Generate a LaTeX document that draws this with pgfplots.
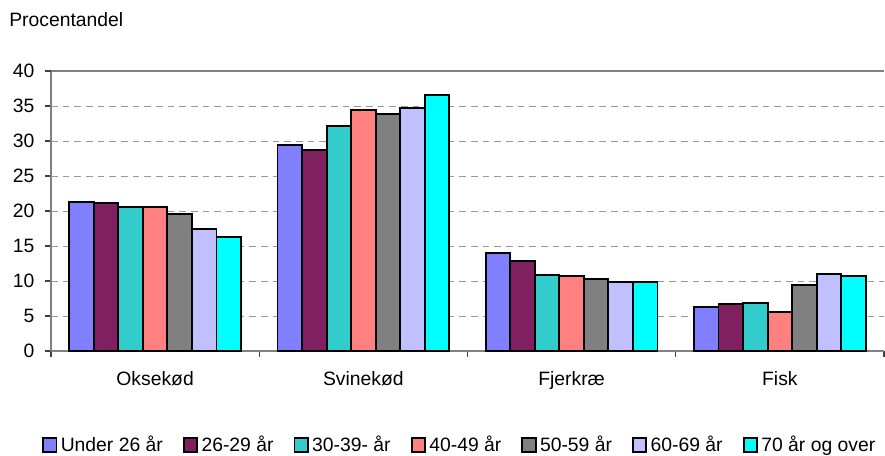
\documentclass[border=0pt]{standalone}
\usepackage{pgfplots}
\pgfplotsset{compat=1.18}
\usepackage{fontspec}
\setmainfont{Liberation Sans}
\definecolor{c1}{HTML}{8080FF}
\definecolor{c2}{HTML}{802060}
\definecolor{c3}{HTML}{33CCCC}
\definecolor{c4}{HTML}{FF8080}
\definecolor{c5}{HTML}{808080}
\definecolor{c6}{HTML}{C0C0FF}
\definecolor{c7}{HTML}{00FFFF}
\begin{document}
\fontsize{14.5}{17}\selectfont
\begin{tikzpicture}
\useasboundingbox (-38.25pt,-78pt) rectangle (625.5pt,263.25pt);
\begin{axis}[
  at={(0,0)}, anchor=south west,
  scale only axis, width=624.75pt, height=210pt,
  clip=false,
  xmin=-0.5, xmax=3.5, ymin=0, ymax=40,
  axis lines=left,
  axis line style={-, draw=gray, line width=1.2pt},
  /pgf/number format/assume math mode=true,
  ybar=0pt, bar width=18.4pt,
  ytick={0,5,...,35},
  extra y ticks={40},
  extra y tick style={grid style={solid, draw=gray, line width=1.4pt}},
  ymajorgrids,
  grid style={dash pattern=on 5pt off 3.75pt, draw=gray!80, line width=0.75pt},
  tick align=outside,
  major tick length=4.5pt,
  tick style={draw=black!75, line width=0.8pt},
  xtick={-0.5,0.5,1.5,2.5,3.5},
  xticklabels={},
  extra x ticks={0,1,2,3},
  extra x tick labels={Oksekød,Svinekød,Fjerkræ,Fisk},
  extra x tick style={major tick length=0pt, xticklabel style={yshift=-10pt}},
  yticklabel style={xshift=-3pt},
  sq/.style={legend image code/.code={\draw[##1, line width=1.3pt] (0pt,-5pt) rectangle (10pt,5pt);}},
  legend columns=7,
  legend style={at={(0.4916,-0.3357)}, anchor=center, draw=none,
    nodes={inner xsep=2.6pt, inner ysep=1pt},
    /tikz/every even column/.append style={column sep=12.5pt}},
  legend cell align=left,
]
\addplot[fill=c1, draw=black, line width=1.4pt, sq] coordinates {(0,21.3) (1,29.4) (2,14.0) (3,6.3)};
\addplot[fill=c2, draw=black, line width=1.4pt, sq] coordinates {(0,21.2) (1,28.7) (2,12.8) (3,6.7)};
\addplot[fill=c3, draw=black, line width=1.4pt, sq] coordinates {(0,20.6) (1,32.1) (2,10.8) (3,6.9)};
\addplot[fill=c4, draw=black, line width=1.4pt, sq] coordinates {(0,20.6) (1,34.4) (2,10.7) (3,5.6)};
\addplot[fill=c5, draw=black, line width=1.4pt, sq] coordinates {(0,19.6) (1,33.8) (2,10.3) (3,9.4)};
\addplot[fill=c6, draw=black, line width=1.4pt, sq] coordinates {(0,17.4) (1,34.7) (2,9.8) (3,11.0)};
\addplot[fill=c7, draw=black, line width=1.4pt, sq] coordinates {(0,16.3) (1,36.6) (2,9.8) (3,10.7)};
\legend{Under 26 år,26-29 år,30-39- år,40-49 år,50-59 år,60-69 år,70 år og over}
\node[anchor=base west, inner sep=0pt] at ([xshift=-31.5pt, yshift=33.75pt]rel axis cs:0,1) {Procentandel};
\end{axis}
\end{tikzpicture}
\end{document}
